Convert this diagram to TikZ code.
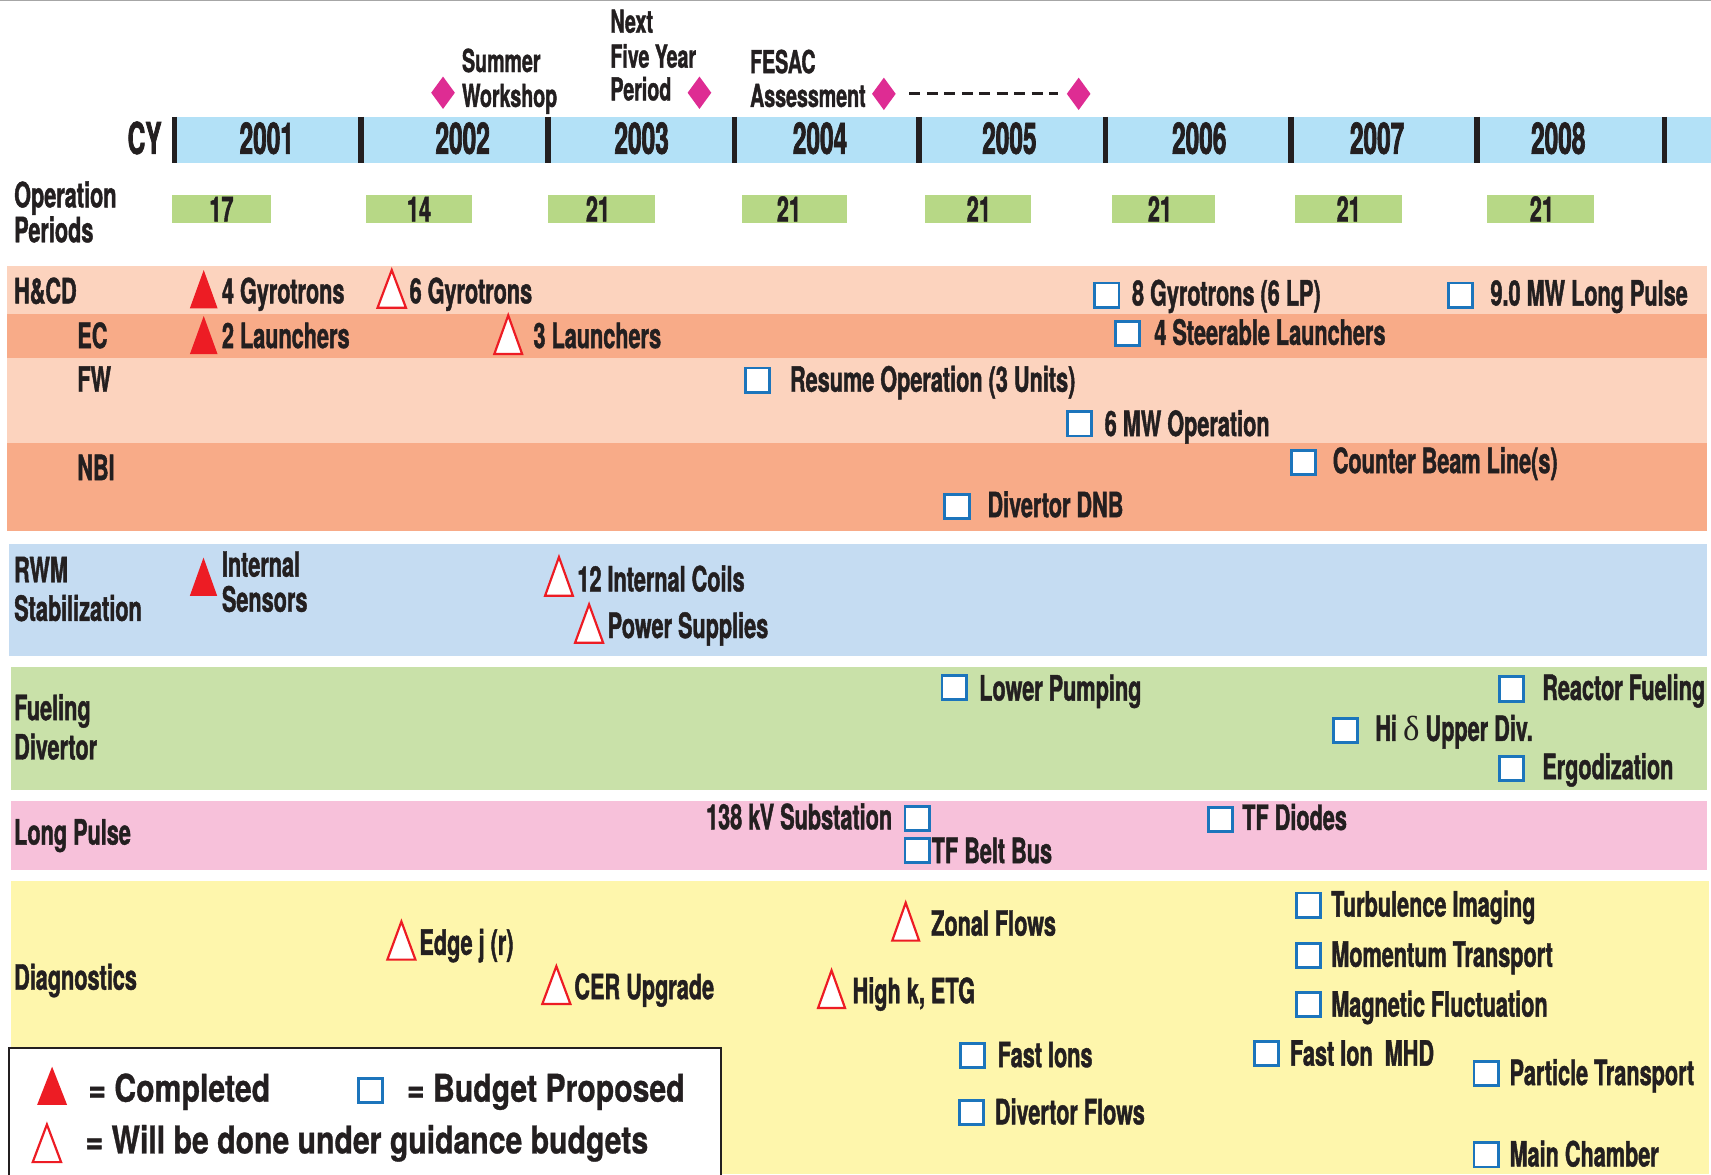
\documentclass[tikz,border=0pt]{standalone}
\usepackage{fontspec}
\setmainfont{TeX Gyre Heros}[FakeStretch=0.62,FakeBold=1.2]
\newfontfamily\yearfont{TeX Gyre Heros}[FakeStretch=0.56,FakeBold=1.6]
\newfontfamily\legfont{TeX Gyre Heros}[FakeStretch=0.79,FakeBold=0.8]
\newfontfamily\grkfont{Liberation Serif}
\usetikzlibrary{shapes.geometric}
\definecolor{txt}{HTML}{231F20}
\definecolor{yearbar}{HTML}{B3E1F7}
\definecolor{opgreen}{HTML}{B7D886}
\definecolor{peachL}{HTML}{FCD3BE}
\definecolor{peachD}{HTML}{F8AB88}
\definecolor{rwmblue}{HTML}{C5DCF2}
\definecolor{fuelgreen}{HTML}{C9E1A9}
\definecolor{lppink}{HTML}{F7C1DA}
\definecolor{diagyel}{HTML}{FEF6AC}
\definecolor{redc}{HTML}{ED1C24}
\definecolor{bluec}{HTML}{1C75BC}
\definecolor{magc}{HTML}{DE2C93}
\newcommand\mkftri[4]{\fill[redc] (#1,#4) -- ({(#1+#2)/2},#3) -- (#2,#4) -- cycle;}
\newcommand\mkotri[4]{\draw[redc,fill=white,line width=1pt] ({#1+1},{#4-1}) -- ({(#1+#2)/2},{#3+2.5}) -- ({#2-1},{#4-1}) -- cycle;}
\newcommand\mkbox[2]{\draw[bluec,fill=white,line width=1.3pt] ({#1+1.3},{#2+1.3}) rectangle ({#1+23.5},{#2+23.5});}
\tikzset{
  lbl/.style={anchor=base west, inner sep=0pt, text=txt, font=\fontsize{16}{19}\selectfont\bfseries},
  toplbl/.style={lbl, font=\fontsize{14.5}{17}\selectfont\bfseries},
  yr/.style={anchor=base, inner sep=0pt, text=txt, font=\yearfont\fontsize{20}{24}\selectfont\bfseries},
  num/.style={anchor=base, inner sep=0pt, text=txt, font=\fontsize{16}{19}\selectfont\bfseries},
  leg/.style={lbl, font=\legfont\fontsize{17.5}{21}\selectfont\bfseries},
  dia/.style={shape=diamond, fill=magc, inner sep=0pt, minimum width=11pt, minimum height=15pt},
  dashline/.style={txt, line width=1.5pt, dash pattern=on 5pt off 3pt, shorten <=6pt, shorten >=3.75pt},
  tick/.style={txt, line width=2.5pt},
  opbox/.style={fill=opgreen}
}
\begin{document}
\begin{tikzpicture}[x=0.5pt,y=-0.5pt]
\useasboundingbox (0,0) rectangle (1568,1076);
\fill[white] (0,0) rectangle (1568,1076);
\draw[gray!70, line width=0.6pt] (0,0.6) -- (1568,0.6);

% ---------- milestones ----------
\node[toplbl] (sum1) at (423,66) {Summer};
\node[toplbl] (sum2) at (423,98) {Workshop};
\node[toplbl] (nx1) at (559,30) {Next};
\node[toplbl] (nx2) at (559,62) {Five Year};
\node[toplbl] (nx3) at (559,92) {Period};
\node[toplbl] (fe1) at (687,67) {FESAC};
\node[toplbl] (fe2) at (687,98) {Assessment};
\node[dia] (d1) at (406,85) {};
\node[dia] (d2) at (641,85) {};
\node[dia] (d3) at (810,86) {};
\node[dia] (d4) at (988.5,86) {};
\draw[dashline] (d3) -- (d4);

% ---------- year bar ----------
\fill[yearbar] (158,107) rectangle (1568,149);
\foreach \tx in {160,331,502,673,842,1013,1183,1353.5,1525.5}
  \draw[tick] (\tx,107) -- (\tx,149);
\node[anchor=base east, inner sep=0pt, text=txt, font=\yearfont\fontsize{20}{24}\selectfont\bfseries] (cy) at (148.5,141) {CY};
\node[yr] (y1) at (244.5,141) {2001};
\node[yr] (y2) at (424,141) {2002};
\node[yr] (y3) at (588,141) {2003};
\node[yr] (y4) at (751.5,141) {2004};
\node[yr] (y5) at (925,141) {2005};
\node[yr] (y6) at (1099,141) {2006};
\node[yr] (y7) at (1262,141) {2007};
\node[yr] (y8) at (1428,141) {2008};

% ---------- operation periods ----------
\node[lbl] (op1) at (12.6,190) {Operation};
\node[lbl] (op2) at (12.6,222) {Periods};
\fill[opbox] (157.6,178.7) rectangle (248,204);
\fill[opbox] (335,178.7) rectangle (433,204);
\fill[opbox] (502,178.7) rectangle (600,204);
\fill[opbox] (680,178.7) rectangle (776,204);
\fill[opbox] (848,178.7) rectangle (945,204);
\fill[opbox] (1019,178.7) rectangle (1113.5,204);
\fill[opbox] (1187,178.7) rectangle (1284.5,204);
\fill[opbox] (1363,178.7) rectangle (1460.6,204);
\node[num] (n1) at (203,203) {17};
\node[num] (n2) at (384,203) {14};
\node[num] (n3) at (548,203) {21};
\node[num] (n4) at (723,203) {21};
\node[num] (n5) at (897,203) {21};
\node[num] (n6) at (1063,203) {21};
\node[num] (n7) at (1236,203) {21};
\node[num] (n8) at (1413,203) {21};

% ---------- bands ----------
\fill[peachL] (6.5,244) rectangle (1564,288);
\fill[peachD] (6.5,288) rectangle (1564,328);
\fill[peachL] (6.5,328) rectangle (1564,406);
\fill[peachD] (6.5,406) rectangle (1564,487);
\fill[rwmblue] (8,498.5) rectangle (1564,601);
\fill[fuelgreen] (10,611) rectangle (1564,724);
\fill[lppink] (10,734) rectangle (1564,797);
\fill[diagyel] (10,807.4) rectangle (1566,1076);

% ---------- H&CD / EC / FW / NBI ----------
\node[lbl] (hcd) at (12.6,278) {H\&CD};
\mkftri{174}{199.4}{247.5}{282.5}
\node[lbl] (g4) at (203,278) {4 Gyrotrons};
\mkotri{345}{373}{245}{283}
\node[lbl] (g6) at (375,278) {6 Gyrotrons};
\mkbox{1002}{258}
\node[lbl] (g8) at (1037,280) {8 Gyrotrons (6 LP)};
\mkbox{1326}{258}
\node[lbl] (mw9) at (1365.5,280) {9.0 MW Long Pulse};

\node[lbl] (ec) at (70.5,319) {EC};
\mkftri{174}{199.4}{289.6}{324.6}
\node[lbl] (l2) at (203,319) {2 Launchers};
\mkotri{452}{479.5}{286.5}{325.4}
\node[lbl] (l3) at (488.5,319) {3 Launchers};
\mkbox{1020.6}{293}
\node[lbl] (l4) at (1057.5,316) {4 Steerable Launchers};

\node[lbl] (fw) at (70.5,359) {FW};
\mkbox{682}{336}
\node[lbl] (res) at (723.6,359) {Resume Operation (3 Units)};
\mkbox{977}{376}
\node[lbl] (mw6) at (1012,399.6) {6 MW Operation};

\node[lbl] (nbi) at (70.5,440) {NBI};
\mkbox{1182}{411.5}
\node[lbl] (cbl) at (1221,433.6) {Counter Beam Line(s)};
\mkbox{864.6}{452}
\node[lbl] (dnb) at (904.6,474) {Divertor DNB};

% ---------- RWM ----------
\node[lbl] (rwm1) at (12.6,533.6) {RWM};
\node[lbl] (rwm2) at (12.6,569) {Stabilization};
\mkftri{174}{199}{511}{546}
\node[lbl] (int1) at (203,528.5) {Internal};
\node[lbl] (int2) at (203,560.6) {Sensors};
\mkotri{498.5}{526}{508}{547}
\node[lbl] (coils) at (528.8,542) {12 Internal Coils};
\mkotri{526}{553.7}{551.4}{590}
\node[lbl] (ps) at (556.5,584.7) {Power Supplies};

% ---------- Fueling / Divertor ----------
\node[lbl] (fu1) at (12.6,660) {Fueling};
\node[lbl] (fu2) at (12.6,696) {Divertor};
\mkbox{862}{617.7}
\node[lbl] (lp) at (897,642) {Lower Pumping};
\mkbox{1373}{619}
\node[lbl] (rf) at (1413,641.5) {Reactor Fueling};
\mkbox{1220.6}{656.8}
\node[lbl] (hid) at (1260,679) {Hi {\grkfont\mdseries δ} Upper Div.};
\mkbox{1373}{692}
\node[lbl] (erg) at (1413,714) {Ergodization};

% ---------- Long Pulse ----------
\node[lbl] (lpl) at (12.6,774) {Long Pulse};
\node[lbl, anchor=base east] (sub) at (818,760) {138 kV Substation};
\mkbox{828}{737.7}
\mkbox{828}{766.8}
\node[lbl] (belt) at (853.5,791) {TF Belt Bus};
\mkbox{1106}{738.7}
\node[lbl] (diod) at (1138,760.6) {TF Diodes};

% ---------- Diagnostics ----------
\node[lbl] (dia) at (12.6,907) {Diagnostics};
\mkotri{354}{381.7}{842}{880.4}
\node[lbl] (edge) at (384,875) {Edge j (r)};
\mkotri{496}{523.7}{883}{921}
\node[lbl] (cer) at (526,915.7) {CER Upgrade};
\mkotri{816.7}{843.3}{824.8}{863}
\node[lbl] (zon) at (853,857.5) {Zonal Flows};
\mkotri{748.7}{775.4}{886.8}{924.7}
\node[lbl] (hk) at (781,919.4) {High k, ETG};
\mkbox{1187}{817}
\node[lbl] (turb) at (1219.6,840) {Turbulence Imaging};
\mkbox{1187}{863}
\node[lbl] (mom) at (1219.6,886) {Momentum Transport};
\mkbox{1187}{908}
\node[lbl] (mag) at (1219.6,931.7) {Magnetic Fluctuation};
\mkbox{878.7}{954.6}
\node[lbl] (fi) at (914,978) {Fast Ions};
\mkbox{878}{1007}
\node[lbl] (dfl) at (911.4,1030.4) {Divertor Flows};
\mkbox{1148}{953}
\node[lbl] (fim) at (1181.8,976.6) {Fast Ion\ \ MHD};
\mkbox{1349.5}{971.4}
\node[lbl] (pt) at (1383,994.4) {Particle Transport};
\mkbox{1349.5}{1046}
\node[lbl] (mc) at (1383,1069) {Main Chamber};

% ---------- legend ----------
\fill[white] (8.5,960.6) rectangle (661,1080);
\draw[txt, line width=1pt] (8.5,1080) -- (8.5,960.6) -- (661,960.6) -- (661,1080);
\mkftri{34}{61.5}{977.5}{1012.6}
\node[leg] (lc) at (80.6,1009.6) {= Completed};
\mkbox{327}{986.7}
\node[leg] (lbud) at (372.6,1009.6) {= Budget Proposed};
\mkotri{29}{57}{1028}{1066}
\node[leg] (lw) at (78,1057) {= Will be done under guidance budgets};
\end{tikzpicture}
\end{document}
